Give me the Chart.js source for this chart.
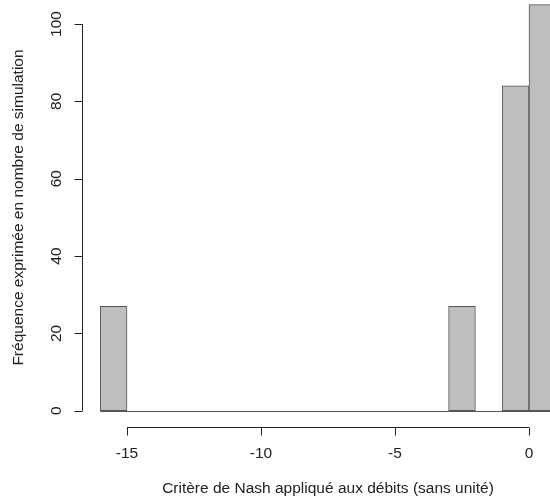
<!DOCTYPE html>
<html>
<head>
<meta charset="utf-8">
<script src="https://cdn.jsdelivr.net/npm/chart.js@4"></script>
<style>
  html, body { margin: 0; padding: 0; background: #fff; overflow: hidden; }
  #wrap { position: relative; width: 550px; height: 501px; }
</style>
</head>
<body>
<div id="wrap"><canvas id="histChart" width="550" height="501"></canvas></div>
<script>
// bornes des classes (largeur 1) et effectifs
const binStart = -16;
const binWidth = 1;
const counts = [27, 0, 0, 0, 0, 0, 0, 0, 0, 0, 0, 0, 0, 27, 0, 84, 105];
const xTicks = [-15, -10, -5, 0];
const yTicks = [0, 20, 40, 60, 80, 100];
const xTitle = "Critère de Nash appliqué aux débits (sans unité)";
const yTitle = "Fréquence exprimée en nombre de simulation";

const binEdges = counts.map((c, i) => binStart + i * binWidth);
binEdges.push(binStart + counts.length * binWidth);
const points = counts.map((c, i) => ({ x: binEdges[i] + binWidth / 2, y: c }));

const FONT = "15.5px 'Liberation Sans', Arial, sans-serif";
const INK = "#222";

// axes à la façon de R, dessinés avec les échelles de Chart.js
const rAxes = {
    id: "rAxes",
    afterDatasetsDraw(chart) {
        const ctx = chart.ctx;
        const xs = chart.scales.x;
        const ys = chart.scales.y;
        ctx.save();
        ctx.strokeStyle = INK;
        ctx.fillStyle = INK;
        ctx.lineWidth = 1;
        ctx.font = FONT;

        // ligne de base des classes vides
        const y0 = Math.round(ys.getPixelForValue(0)) + 0.5;
        ctx.strokeStyle = "#555";
        ctx.beginPath();
        ctx.moveTo(xs.getPixelForValue(binEdges[0]), y0);
        ctx.lineTo(xs.getPixelForValue(binEdges[binEdges.length - 1]), y0);
        ctx.stroke();
        ctx.strokeStyle = INK;

        // axe des x
        const axY = chart.chartArea.bottom + 0.5;
        ctx.beginPath();
        ctx.moveTo(xs.getPixelForValue(xTicks[0]), axY);
        ctx.lineTo(xs.getPixelForValue(xTicks[xTicks.length - 1]), axY);
        xTicks.forEach((t) => {
            const px = Math.round(xs.getPixelForValue(t)) + 0.5;
            ctx.moveTo(px, axY);
            ctx.lineTo(px, axY + 8);
        });
        ctx.stroke();
        ctx.textAlign = "center";
        ctx.textBaseline = "middle";
        xTicks.forEach((t) => {
            ctx.fillText(String(t), xs.getPixelForValue(t), axY + 26);
        });
        ctx.fillText(xTitle, (chart.chartArea.left + 574) / 2, axY + 61);

        // axe des y
        const axX = chart.chartArea.left + 0.5;
        ctx.beginPath();
        ctx.moveTo(axX, ys.getPixelForValue(yTicks[0]));
        ctx.lineTo(axX, ys.getPixelForValue(yTicks[yTicks.length - 1]));
        yTicks.forEach((t) => {
            const py = Math.round(ys.getPixelForValue(t)) + 0.5;
            ctx.moveTo(axX, py);
            ctx.lineTo(axX - 8, py);
        });
        ctx.stroke();
        yTicks.forEach((t) => {
            ctx.save();
            ctx.translate(axX - 26, ys.getPixelForValue(t));
            ctx.rotate(-Math.PI / 2);
            ctx.fillText(String(t), 0, 0);
            ctx.restore();
        });
        ctx.save();
        ctx.translate(19, (chart.chartArea.bottom - 12) / 2);
        ctx.rotate(-Math.PI / 2);
        ctx.fillText(yTitle, 0, 0);
        ctx.restore();

        ctx.restore();
    },
};

new Chart(document.getElementById("histChart").getContext("2d"), {
    type: "bar",
    data: {
        datasets: [
            {
                data: points,
                backgroundColor: "#bebebe",
                borderColor: "#555",
                borderWidth: 1,
                borderSkipped: false,
                barPercentage: 1,
                categoryPercentage: 1,
            },
        ],
    },
    options: {
        responsive: false,
        animation: false,
        events: [],
        layout: { padding: { left: 82, right: 0, top: 0, bottom: 74 } },
        plugins: { legend: { display: false }, tooltip: { enabled: false } },
        scales: {
            x: { type: "linear", min: -16.68, max: 0.784, display: false, offset: false },
            y: { min: -4.2, max: 106.2, display: false },
        },
    },
    plugins: [rAxes],
});
</script>
</body>
</html>
